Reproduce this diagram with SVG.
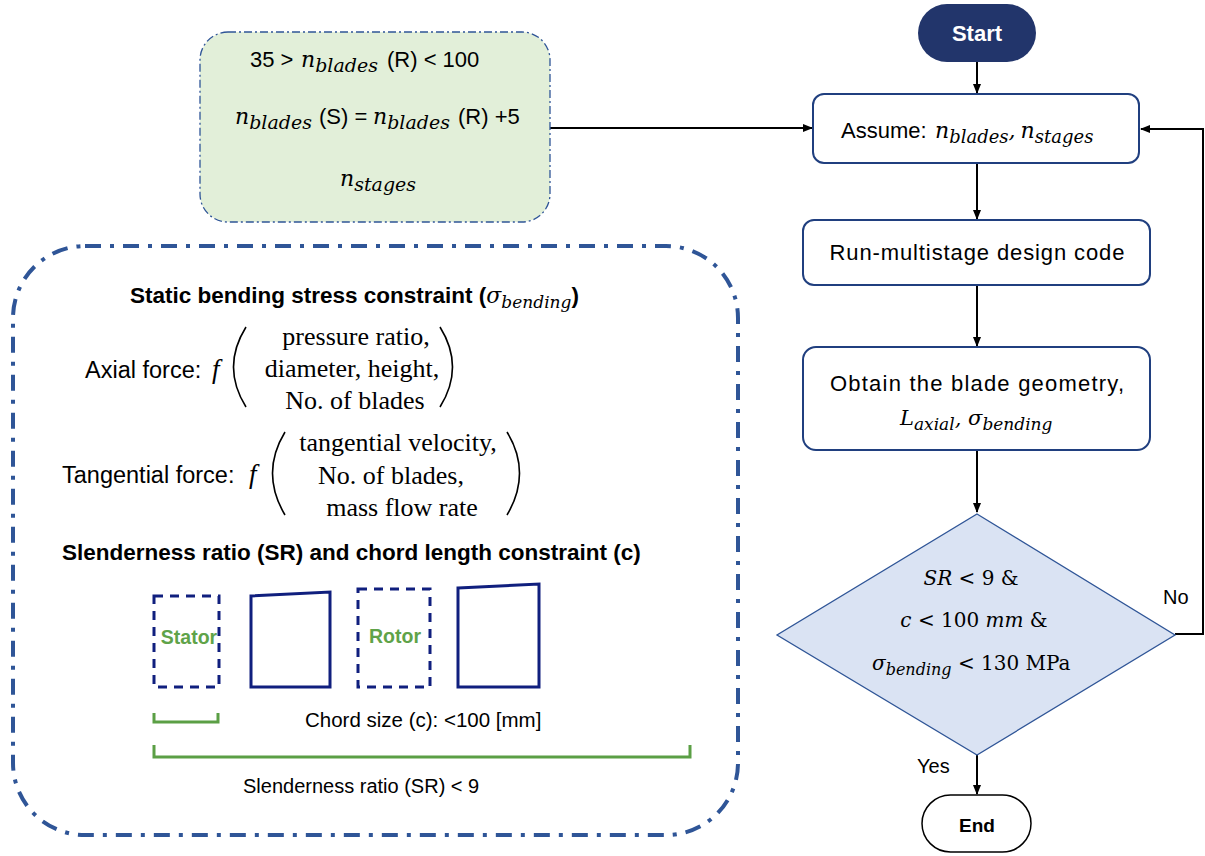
<svg xmlns="http://www.w3.org/2000/svg" width="1205" height="856" viewBox="0 0 1205 856">
<style>
.s{font-family:"Liberation Sans",Arial,sans-serif;fill:#000}
.b{font-weight:bold}
.m{font-family:"DejaVu Serif","Liberation Serif",serif;font-style:italic;font-weight:normal}
.r{font-family:"Liberation Serif","DejaVu Serif",serif}
.d{font-family:"DejaVu Serif","Liberation Serif",serif}
.box{fill:#fff;stroke:#203f7f;stroke-width:2}
.con{stroke:#000;stroke-width:2;fill:none}
.blade{fill:none;stroke:#101f7e;stroke-width:3}
.br{fill:none;stroke:#5b9f45;stroke-width:3}
.g{fill:#5fa349}
</style>
<defs>
<marker id="ah" markerWidth="10" markerHeight="10" refX="9" refY="5" orient="auto" markerUnits="userSpaceOnUse">
<path d="M0,1 L10,5 L0,9 z" fill="#000"/>
</marker>
</defs>
<rect width="1205" height="856" fill="#fff"/>

<g id="connectors">
<line class="con" x1="977" y1="62" x2="977" y2="93" marker-end="url(#ah)"/>
<line class="con" x1="550" y1="128" x2="812" y2="128" marker-end="url(#ah)"/>
<line class="con" x1="977" y1="164" x2="977" y2="219" marker-end="url(#ah)"/>
<line class="con" x1="977" y1="285" x2="977" y2="346" marker-end="url(#ah)"/>
<line class="con" x1="977" y1="450" x2="977" y2="512" marker-end="url(#ah)"/>
<polyline class="con" points="1175,634 1203,634 1203,129 1141,129" stroke-width="3" marker-end="url(#ah)"/>
<line class="con" x1="977" y1="755" x2="977" y2="794" marker-end="url(#ah)"/>
<text class="s" x="1163" y="604" font-size="20">No</text>
<text class="s" x="917" y="773" font-size="20">Yes</text>
</g>

<g id="inputs">
<rect x="200" y="32" width="350" height="190" rx="28" fill="#e2efd9" stroke="#2f5597" stroke-width="1.3" stroke-dasharray="8,3,2,3"/>
<text class="s" x="250" y="67" font-size="22">35 &gt;<tspan class="m" x="301" font-size="22">n</tspan><tspan class="m" font-size="19" dy="5">blades</tspan><tspan x="387" dy="-5">(R) &lt; 100</tspan></text>
<text class="s" x="235" y="124" font-size="22"><tspan class="m">n</tspan><tspan class="m" font-size="19" dy="5">blades</tspan><tspan x="319" dy="-5">(S) =</tspan><tspan class="m" x="373">n</tspan><tspan class="m" font-size="19" dy="5">blades</tspan><tspan x="458" dy="-5">(R) +5</tspan></text>
<text class="s" x="340" y="186" font-size="22"><tspan class="m">n</tspan><tspan class="m" font-size="19" dy="5">stages</tspan></text>
</g>

<g id="constraints">
<rect x="13" y="246" width="725" height="589" rx="72" fill="none" stroke="#2f5597" stroke-width="4" stroke-dasharray="16,9,4,9"/>
<text class="s b" x="130" y="303" font-size="22.5">Static bending stress constraint (<tspan class="m" font-size="22">σ</tspan><tspan class="m" font-size="17" dy="5">bending</tspan><tspan dy="-5">)</tspan></text>
<text class="s" x="85" y="378" font-size="23.5">Axial force:</text>
<text class="r" x="212" y="378" font-size="27" font-style="italic">f</text>
<path d="M246,327 Q221,367 246,407" fill="none" stroke="#000" stroke-width="1.6"/>
<path d="M440,327 Q465,367 440,407" fill="none" stroke="#000" stroke-width="1.6"/>
<text class="r" x="356" y="345" font-size="26" text-anchor="middle">pressure ratio,</text>
<text class="r" x="352" y="377" font-size="26" text-anchor="middle">diameter, height,</text>
<text class="r" x="355" y="409" font-size="26" text-anchor="middle">No. of blades</text>

<text class="s" x="62" y="483" font-size="23.5">Tangential force:</text>
<text class="r" x="249" y="483" font-size="27" font-style="italic">f</text>
<path d="M285,432 Q260,473 285,515" fill="none" stroke="#000" stroke-width="1.6"/>
<path d="M507,432 Q532,473 507,515" fill="none" stroke="#000" stroke-width="1.6"/>
<text class="r" x="398" y="451" font-size="26" text-anchor="middle">tangential velocity,</text>
<text class="r" x="391" y="484" font-size="26" text-anchor="middle">No. of blades,</text>
<text class="r" x="402" y="516" font-size="26" text-anchor="middle">mass flow rate</text>

<text class="s b" x="62" y="560" font-size="22.5">Slenderness ratio (SR) and chord length constraint (c)</text>

<rect x="154" y="596" width="65" height="91" class="blade" stroke-dasharray="9,7"/>
<polygon class="blade" points="251,596 330,592 330,687 251,687"/>
<rect x="358" y="589" width="72" height="98" class="blade" stroke-dasharray="9,7"/>
<polygon class="blade" points="458,588 539,584 539,687 458,687"/>
<text class="s b g" x="189" y="644" font-size="19.5" text-anchor="middle">Stator</text>
<text class="s b g" x="395" y="643" font-size="19.5" text-anchor="middle">Rotor</text>

<polyline class="br" points="154,713 154,722 218,722 218,713"/>
<text class="s" x="305" y="727" font-size="20.5">Chord size (c): &lt;100 [mm]</text>
<polyline class="br" points="154,745 154,757 690,757 690,745"/>
<text class="s" x="243" y="793" font-size="20">Slenderness ratio (SR) &lt; 9</text>
</g>

<g id="start">
<rect x="918" y="4" width="118" height="58" rx="29" fill="#22356b"/>
<text class="s b" x="977" y="41" font-size="22" text-anchor="middle" style="fill:#fff">Start</text>
</g>

<g id="assume">
<rect class="box" x="813" y="94" width="326" height="69" rx="11"/>
<text class="s" x="841" y="138" font-size="22">Assume:<tspan class="m" x="935">n</tspan><tspan class="m" font-size="18" dy="5">blades</tspan><tspan class="m" dy="-5">,</tspan><tspan class="m" dx="5">n</tspan><tspan class="m" font-size="18" dy="5">stages</tspan></text>
</g>

<g id="run">
<rect class="box" x="803" y="220" width="347" height="65" rx="11"/>
<text class="s" x="977" y="260" font-size="22" text-anchor="middle" textLength="295">Run-multistage design code</text>
</g>

<g id="obtain">
<rect class="box" x="803" y="347" width="347" height="103" rx="13"/>
<text class="s" x="977" y="391" font-size="22" text-anchor="middle" textLength="294">Obtain the blade geometry,</text>
<text class="s" x="900" y="425" font-size="21"><tspan class="m">L</tspan><tspan class="m" font-size="17" dy="5">axial</tspan><tspan class="m" dy="-5">, </tspan><tspan class="m">σ</tspan><tspan class="m" font-size="17" dy="5">bending</tspan></text>
</g>

<g id="decision">
<polygon points="977,514 1175,635 977,755 777,635" fill="#dae3f3" stroke="#2f5597" stroke-width="1.3"/>
<text class="d" x="971" y="585" font-size="20" text-anchor="middle"><tspan class="m">SR</tspan> &lt; 9 &amp;</text>
<text class="d" x="974" y="627" font-size="20" text-anchor="middle"><tspan class="m">c</tspan> &lt; 100 <tspan class="m">mm</tspan> &amp;</text>
<text class="d" x="872" y="670" font-size="20"><tspan class="m">σ</tspan><tspan class="m" font-size="16" dy="5">bending</tspan><tspan dy="-5"> &lt; 130 MPa</tspan></text>
</g>

<g id="end">
<rect x="922" y="795" width="109" height="57" rx="28.5" fill="#fff" stroke="#000" stroke-width="1.5"/>
<text class="s b" x="977" y="832" font-size="19" text-anchor="middle">End</text>
</g>
</svg>
